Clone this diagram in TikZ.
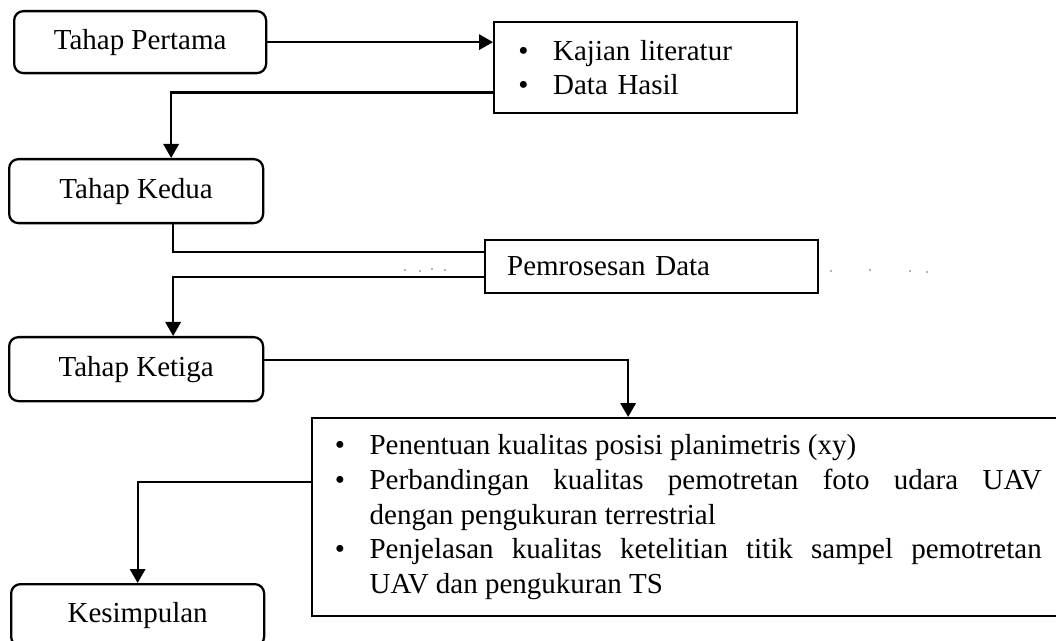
\documentclass[tikz,border=0pt]{standalone}
\usepackage{fontspec}
\setmainfont{Liberation Serif}
\usetikzlibrary{arrows.meta,calc}
\newcommand{\myblt}{\makebox[27pt][l]{\hspace{1pt}\textbullet}}
\begin{document}
\begin{tikzpicture}[x=0.75pt,y=-0.75pt,
  every node/.style={font=\fontsize{21.75}{26}\selectfont},
  base/.style={draw,line width=1.7pt,anchor=north west,inner sep=0pt},
  rbox/.style={base,rounded corners=7pt,align=center},
  sbox/.style={base,align=left},
  conn/.style={line width=1.7pt},
  arr/.style={conn,-{Triangle[width=11.5pt,length=10.5pt]}},
  speck/.style={fill=black!60,draw=none},
]
\useasboundingbox (0,0) rectangle (1056,641);

\node[rbox,minimum width=189pt,minimum height=46.5pt] (tp) at (13,10) {Tahap Pertama};
\node[sbox,text width=192.75pt,inner xsep=17.25pt,minimum height=68.25pt] (b2) at (493,21)
  {\myblt Kajian literatur\\ \myblt Data Hasil};
\node[rbox,minimum width=190.5pt,minimum height=48pt] (tk) at (8,158) {Tahap Kedua};
\node[sbox,text width=216.75pt,inner xsep=16.5pt,minimum height=39.75pt] (pem) at (484,239) {Pemrosesan Data};
\node[rbox,minimum width=190.5pt,minimum height=48pt] (tke) at (8,336) {Tahap Ketiga};
\node[sbox,align=justify,text width=531pt,inner xsep=16.125pt,minimum height=148.5pt] (big) at (311,417) {%
\parindent=0pt
\hangindent=27pt\hangafter=1\myblt Penentuan kualitas posisi planimetris (xy)\par
\hangindent=27pt\hangafter=1\myblt Perbandingan kualitas pemotretan foto udara UAV\linebreak dengan pengukuran terrestrial\par
\hangindent=27pt\hangafter=1\myblt Penjelasan kualitas ketelitian titik sampel pemotretan\linebreak UAV dan pengukuran TS\par};
\node[rbox,minimum width=189.75pt,minimum height=46.5pt] (kes) at (10,583) {Kesimpulan};

\draw[arr] (tp.east) -- (tp.east -| b2.west);
\draw[arr] ($(b2.west)+(0,25)$) -| ($(tk.north)+(35,0)$);
\draw[conn] ($(tk.south)+(37,0)$) |- ($(pem.west)+(0,-14.5)$);
\draw[arr] ($(pem.west)+(0,10.5)$) -| ($(tke.north)+(37,0)$);
\draw[arr] ($(tke.east)+(0,-9)$) -| ($(big.north)+(-59.5,0)$);
\draw[arr] ($(big.west)+(0,-35)$) -| (kes.north);

\foreach \p in {(405,270),(420,271),(432,269),(445,270),(831,271),(870,270),(910,271),(927,272)}
  \fill[speck] \p circle (0.9);
\end{tikzpicture}
\end{document}
